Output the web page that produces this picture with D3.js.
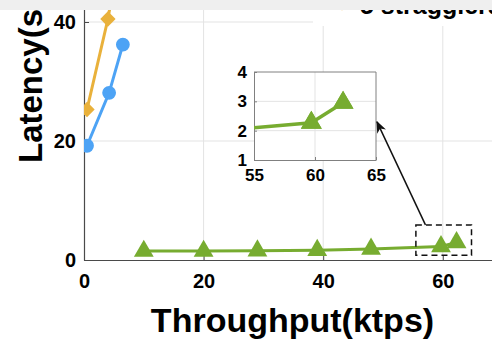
<!DOCTYPE html>
<html>
<head>
<meta charset="utf-8">
<script src="https://cdn.jsdelivr.net/npm/d3@7"></script>
<style>
  body { margin: 0; background: #fff; }
  svg { display: block; font-family: Arial, "Liberation Sans", sans-serif; }
</style>
</head>
<body>
<svg width="492" height="339"></svg>
<script>
// throughput (ktps) / latency (s)
const blueX = [0.5, 4.2, 6.5];
const blueY = [19.2, 28.1, 36.2];
const yellowX = [0.5, 4.0, 6.0];
const yellowY = [25.3, 40.5, 52];
const greenX = [10, 20, 29, 39, 48, 59.7, 62.3];
const greenY = [1.5, 1.5, 1.55, 1.65, 1.85, 2.27, 2.95];

const xTicks = [0, 20, 40, 60];
const yTicks = [0, 20, 40];
const insetXTicks = [55, 60, 65];
const insetYTicks = [1, 2, 3, 4];
const legendNames = ["5 stragglers"];

const yellow = "#E9B13B", blue = "#4DA3F5", green = "#77AC30";

const svg = d3.select("svg");

// main plot area goes past the top and right edge of the picture
const x = d3.scaleLinear().domain([0, 70]).range([84, 502.6]);
const y = d3.scaleLinear().domain([0, 45]).range([260, 260 - 45 * 5.95]);

const defs = svg.append("defs");
defs.append("clipPath").attr("id", "clip-main")
    .append("rect").attr("x", 84).attr("y", y(45)).attr("width", 420).attr("height", 260 - y(45));

// grid
svg.append("g").selectAll("line").data(xTicks.filter(d => d > 0)).join("line")
    .attr("x1", d => x(d)).attr("x2", d => x(d))
    .attr("y1", y(45)).attr("y2", y(0))
    .attr("stroke", "#e3e3e3").attr("stroke-width", 1);
svg.append("g").selectAll("line").data(yTicks.filter(d => d > 0)).join("line")
    .attr("x1", x(0)).attr("x2", x(70))
    .attr("y1", d => y(d)).attr("y2", d => y(d))
    .attr("stroke", "#e3e3e3").attr("stroke-width", 1);

// axes
const xAxis = svg.append("g")
    .attr("transform", `translate(0,${y(0)})`)
    .call(d3.axisBottom(x).tickValues(xTicks).tickSizeInner(-5).tickSizeOuter(0).tickPadding(14));
const yAxis = svg.append("g")
    .attr("transform", `translate(${x(0)},0)`)
    .call(d3.axisLeft(y).tickValues(yTicks).tickSizeInner(-5).tickSizeOuter(0).tickPadding(8));
[xAxis, yAxis].forEach(a => {
    a.select(".domain").attr("stroke", "#4a4a4a").attr("stroke-width", 1.2);
    a.selectAll(".tick line").attr("stroke", "#4a4a4a");
    a.selectAll("text").attr("font-size", 20).attr("font-weight", "bold").attr("fill", "#000")
        .attr("font-family", "Arial, 'Liberation Sans', sans-serif");
});
xAxis.selectAll(".tick").filter(d => d === 0).select("line").remove();

// series
const plot = svg.append("g").attr("clip-path", "url(#clip-main)");

function drawSeries(g, xs, ys, color, marker, sx, sy, lw, ms) {
    const pts = xs.map((v, i) => [v, ys[i]]);
    g.append("path").datum(pts)
        .attr("fill", "none").attr("stroke", color).attr("stroke-width", lw)
        .attr("d", d3.line().x(d => sx(d[0])).y(d => sy(d[1])));
    g.selectAll(null).data(pts).join("path")
        .attr("transform", d => `translate(${sx(d[0])},${sy(d[1])})`)
        .attr("d", d3.symbol().type(marker).size(ms))
        .attr("fill", color);
}

drawSeries(plot, yellowX, yellowY, yellow, d3.symbolDiamond2, x, y, 3, 150);
drawSeries(plot, blueX, blueY, blue, d3.symbolCircle, x, y, 3, 150);
drawSeries(plot, greenX, greenY, green, d3.symbolTriangle, x, y, 3, 170);

// zoom box
const boxX = [55.5, 64.8], boxY = [0.8, 5.9];
svg.append("rect")
    .attr("x", x(boxX[0])).attr("y", y(boxY[1]))
    .attr("width", x(boxX[1]) - x(boxX[0])).attr("height", y(boxY[0]) - y(boxY[1]))
    .attr("fill", "none").attr("stroke", "#111").attr("stroke-width", 1.5)
    .attr("stroke-dasharray", "6 4");

// inset
const ix = d3.scaleLinear().domain([55, 65]).range([254, 376]);
const iy = d3.scaleLinear().domain([1, 4]).range([160, 72]);
defs.append("clipPath").attr("id", "clip-inset")
    .append("rect").attr("x", 254).attr("y", 72).attr("width", 122).attr("height", 88);

const inset = svg.append("g");
inset.append("rect").attr("x", 254).attr("y", 72).attr("width", 122).attr("height", 88).attr("fill", "#fff");
inset.append("g").selectAll("line").data([60]).join("line")
    .attr("x1", d => ix(d)).attr("x2", d => ix(d)).attr("y1", 72).attr("y2", 160)
    .attr("stroke", "#e3e3e3");
inset.append("g").selectAll("line").data([2, 3]).join("line")
    .attr("x1", 254).attr("x2", 376).attr("y1", d => iy(d)).attr("y2", d => iy(d))
    .attr("stroke", "#e3e3e3");

const ixAxis = inset.append("g").attr("transform", "translate(0,160)")
    .call(d3.axisBottom(ix).tickValues(insetXTicks).tickFormat(d3.format("d"))
        .tickSizeInner(-3).tickSizeOuter(0).tickPadding(9));
const iyAxis = inset.append("g").attr("transform", "translate(254,0)")
    .call(d3.axisLeft(iy).tickValues(insetYTicks).tickFormat(d3.format("d"))
        .tickSizeInner(-3).tickSizeOuter(0).tickPadding(7));
[ixAxis, iyAxis].forEach(a => {
    a.select(".domain").attr("stroke", "#808080");
    a.selectAll(".tick line").attr("stroke", "#808080");
    a.selectAll("text").attr("font-size", 17).attr("font-weight", "bold").attr("fill", "#000")
        .attr("font-family", "Arial, 'Liberation Sans', sans-serif");
});
inset.append("line").attr("x1", 254).attr("x2", 376).attr("y1", 72).attr("y2", 72).attr("stroke", "#808080");
inset.append("line").attr("x1", 376).attr("x2", 376).attr("y1", 72).attr("y2", 160).attr("stroke", "#808080");

const insetPlot = inset.append("g").attr("clip-path", "url(#clip-inset)");
drawSeries(insetPlot, greenX, greenY, green, d3.symbolTriangle, ix, iy, 3.5, 190);
// markers near the edge are drawn whole
inset.selectAll(null).data(greenX.map((v, i) => [v, greenY[i]]).filter(d => d[0] > 55)).join("path")
    .attr("transform", d => `translate(${ix(d[0])},${iy(d[1])})`)
    .attr("d", d3.symbol().type(d3.symbolTriangle).size(190))
    .attr("fill", green);

// arrow from zoom box to inset
defs.append("marker").attr("id", "arrow")
    .attr("viewBox", "0 0 10 10").attr("refX", 9).attr("refY", 5)
    .attr("markerWidth", 8).attr("markerHeight", 8).attr("orient", "auto-start-reverse")
    .append("path").attr("d", "M0,1 L10,5 L0,9 L3,5 Z").attr("fill", "#111");
svg.append("line")
    .attr("x1", x(57.1)).attr("y1", y(boxY[1]))
    .attr("x2", ix(65) + 1).attr("y2", iy(2.3))
    .attr("stroke", "#111").attr("stroke-width", 1.5)
    .attr("marker-end", "url(#arrow)");

// axis titles
svg.append("text")
    .attr("x", (148 + 437) / 2).attr("y", 332)
    .attr("text-anchor", "middle").attr("font-size", 34).attr("font-weight", "bold")
    .text("Throughput(ktps)");
svg.append("text")
    .attr("transform", "translate(42,163) rotate(-90)")
    .attr("text-anchor", "start").attr("font-size", 33).attr("font-weight", "bold")
    .text("Latency(s)");

// legend (only its last row is inside the picture)
const legend = svg.append("g");
legend.append("rect").attr("x", 313).attr("y", -40).attr("width", 190).attr("height", 66).attr("fill", "#fff");
legendNames.forEach((name, i) => {
    const ly = 4 - (legendNames.length - 1 - i) * 24;
    legend.append("line").attr("x1", 326).attr("x2", 358).attr("y1", ly).attr("y2", ly)
        .attr("stroke", yellow).attr("stroke-width", 3);
    legend.append("path").attr("transform", `translate(342,${ly})`)
        .attr("d", d3.symbol().type(d3.symbolDiamond2).size(110)).attr("fill", yellow);
    legend.append("text").attr("x", 360).attr("y", ly + 10)
        .attr("font-size", 25).attr("font-weight", "bold").text(name);
});

// grey strip at the top of the picture
svg.append("rect").attr("x", 0).attr("y", 0).attr("width", 492).attr("height", 10).attr("fill", "#efefef");
</script>
</body>
</html>
